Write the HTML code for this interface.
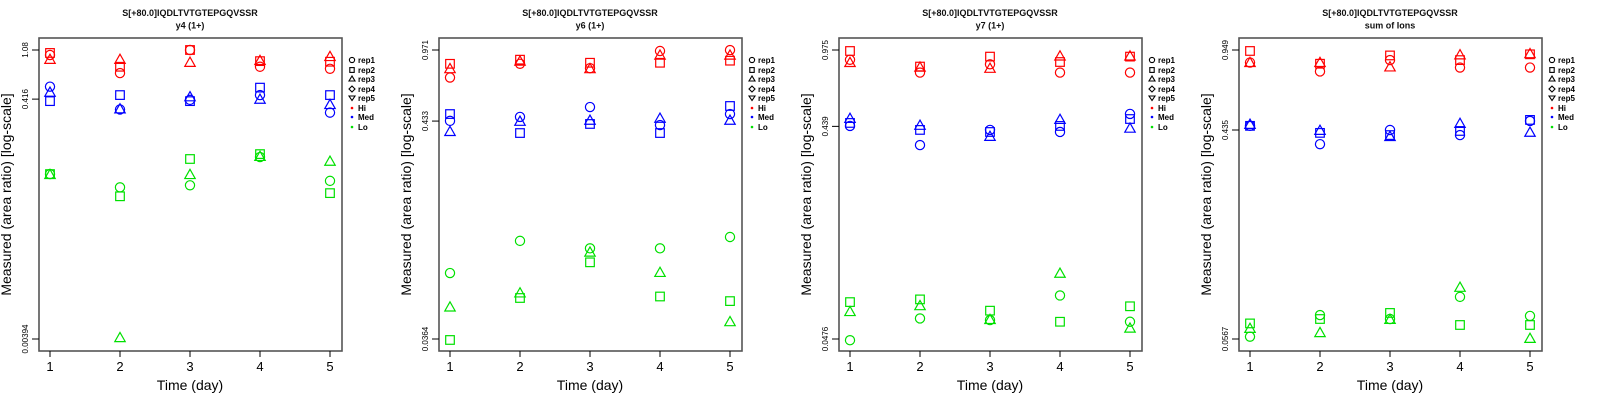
<!DOCTYPE html>
<html><head><meta charset="utf-8">
<style>
html,body{margin:0;padding:0;background:#fff;}
svg{display:block;font-family:"Liberation Sans",sans-serif;}
</style></head>
<body>
<svg id="chart" width="1600" height="400" viewBox="0 0 1600 400" xmlns="http://www.w3.org/2000/svg"></svg>
<script>
// ---- data ----
const days = [1, 2, 3, 4, 5];
const panelTitles = ["y4 (1+)", "y6 (1+)", "y7 (1+)", "sum of Ions"];
const peptide = "S[+80.0]IQDLTVTGTEPGQVSSR";
const tickTop = [1.08, 0.971, 0.975, 0.949];
const tickBottom = [0.00394, 0.0364, 0.0476, 0.0567];
const tickTopLabels = ["1.08", "0.971", "0.975", "0.949"];
const tickMidLabels = ["0.416", "0.433", "0.439", "0.435"];
const tickMid = [0.416, 0.433, 0.439, 0.435];
const tickBottomLabels = ["0.00394", "0.0364", "0.0476", "0.0567"];
const groups = ["Hi", "Med", "Lo"];
const reps = ["rep1", "rep2", "rep3"];
// values[panel][group][day] = [rep1, rep2, rep3]
const p1Hi  = [[.98,1.02,.89],[.69,.78,.89],[1.08,1.08,.84],[.78,.87,.87],[.75,.86,.94]];
const p1Med = [[.53,.40,.47],[.34,.45,.34],[.41,.40,.43],[.45,.52,.41],[.32,.45,.37]];
const p1Lo  = [[.097,.097,.095],[.075,.063,.0040],[.078,.130,.095],[.135,.143,.135],[.085,.067,.123]];
const p2Hi  = [[.71,.83,.78],[.83,.87,.85],[.79,.84,.78],[.96,.84,.91],[.97,.86,.91]];
const p2Med = [[.434,.469,.382],[.454,.378,.429],[.508,.419,.434],[.414,.378,.444],[.469,.514,.434]];
const p2Lo  = [[.077,.036,.052],[.111,.058,.061],[.102,.087,.097],[.102,.059,.077],[.116,.056,.044]];
const p3Hi  = [[.88,.965,.85],[.77,.82,.81],[.84,.91,.80],[.77,.86,.91],[.77,.91,.91]];
const p3Med = [[.441,.455,.474],[.361,.423,.441],[.423,.414,.393],[.414,.441,.469],[.50,.474,.428]];
const p3Lo  = [[.047,.070,.063],[.059,.072,.067],[.058,.064,.058],[.075,.057,.094],[.057,.067,.053]];
const p4Hi  = [[.84,.94,.835],[.77,.83,.835],[.86,.90,.80],[.80,.86,.90],[.80,.91,.91]];
const p4Med = [[.453,.453,.457],[.379,.423,.431],[.435,.414,.406],[.414,.431,.461],[.475,.480,.423]];
const p4Lo  = [[.058,.066,.0625],[.0716,.0689,.060],[.0689,.0731,.0682],[.0855,.065,.0933],[.071,.065,.0567]];
const panelData = [[p1Hi,p1Med,p1Lo],[p2Hi,p2Med,p2Lo],[p3Hi,p3Med,p3Lo],[p4Hi,p4Med,p4Lo]];
const legendLabels = ["rep1","rep2","rep3","rep4","rep5","Hi","Med","Lo"];

const colors = ["#ff0000", "#0000ff", "#00e000"];
const NS = "http://www.w3.org/2000/svg";
const svg = document.getElementById("chart");
function mk(tag, attrs, parent) {
  const e = document.createElementNS(NS, tag);
  for (const k in attrs) e.setAttribute(k, attrs[k]);
  (parent || svg).appendChild(e);
  return e;
}
function marker(g, shape, x, y, color) {
  let e;
  if (shape === 0) e = mk("circle", {cx: x, cy: y, r: 4.6, fill: "none", stroke: color, "stroke-width": 1.2}, g);
  else if (shape === 1) e = mk("rect", {x: x - 4.3, y: y - 4.3, width: 8.6, height: 8.6, fill: "none", stroke: color, "stroke-width": 1.2}, g);
  else e = mk("polygon", {points: `${x},${y-5.8} ${x-5.2},${y+3.4} ${x+5.2},${y+3.4}`, fill: "none", stroke: color, "stroke-width": 1.2}, g);
  return e;
}

const boxL = 39, boxR = 342, boxT = 38, boxB = 351, yTop = 50, yBot = 339;
for (let p = 0; p < 4; p++) {
  const ox = p * 400;
  const g = mk("g", {});
  
  
  const lt = Math.log10(tickTop[p]), lb = Math.log10(tickBottom[p]);
  const yScale = v => yTop + (lt - Math.log10(v)) / (lt - lb) * (yBot - yTop);
  const xScale = d => ox + 50 + (d - 1) * 70;

  const t1 = mk("text", {x: ox + 190, y: 16, "text-anchor": "middle", "font-size": 9, "font-weight": "bold", fill: "#111"}, g);
  t1.textContent = peptide;
  
  
  const t2 = mk("text", {x: ox + 190, y: 28.5, "text-anchor": "middle", "font-size": 9, "font-weight": "bold", fill: "#111"}, g);
  t2.textContent = panelTitles[p];
  
  

  const box = mk("rect", {x: ox + boxL, y: boxT, width: boxR - boxL, height: boxB - boxT, fill: "none", stroke: "#555", "stroke-width": 1.6}, g);
  
  

  // y ticks
  const yt = [tickTop[p], tickMid[p], tickBottom[p]];
  const ytl = [tickTopLabels[p], tickMidLabels[p], tickBottomLabels[p]];
  for (let i = 0; i < 3; i++) {
    const y = yScale(yt[i]);
    mk("line", {x1: ox + 32, x2: ox + boxL, y1: y, y2: y, stroke: "#000", "stroke-width": 1}, g);
    const tl = mk("text", {x: 0, y: 0, "text-anchor": "middle", "font-size": 8, fill: "#000", transform: `translate(${ox + 28},${y}) rotate(-90)`}, g);
    tl.textContent = ytl[i];
    
    
  }
  const yTitle = mk("text", {x: 0, y: 0, "text-anchor": "middle", "font-size": 14, fill: "#000", transform: `translate(${ox + 11},${(boxT + boxB) / 2}) rotate(-90)`}, g);
  yTitle.textContent = "Measured (area ratio) [log-scale]";
  
  

  // x ticks
  for (const d of days) {
    const x = xScale(d);
    mk("line", {x1: x, x2: x, y1: boxB, y2: boxB + 6, stroke: "#000", "stroke-width": 1}, g);
    const tl = mk("text", {x: x, y: 371, "text-anchor": "middle", "font-size": 13, fill: "#000"}, g);
    tl.textContent = d;
    
    
  }
  const xTitle = mk("text", {x: ox + 190, y: 390, "text-anchor": "middle", "font-size": 14, fill: "#000"}, g);
  xTitle.textContent = "Time (day)";
  
  

  // points
  for (let gi = 0; gi < 3; gi++) {
    const series = panelData[p][gi];
    for (let di = 0; di < days.length; di++) {
      for (let r = 0; r < 3; r++) {
        const m = marker(g, r, xScale(days[di]), yScale(series[di][r]), colors[gi]);
        
        
      }
    }
  }

  // legend
  const lg = mk("g", {}, g);
  
  
  const ly = [60, 70, 79, 89, 98, 108, 117, 127];
  for (let i = 0; i < legendLabels.length; i++) {
    const x = ox + 352, y = ly[i];
    let s;
    if (i === 0) s = mk("circle", {cx: x, cy: y, r: 2.6, fill: "none", stroke: "#000", "stroke-width": 1.1}, lg);
    else if (i === 1) s = mk("rect", {x: x - 2.2, y: y - 2.4, width: 4.4, height: 4.8, fill: "none", stroke: "#000", "stroke-width": 1.1}, lg);
    else if (i === 2) s = mk("polygon", {points: `${x},${y-3} ${x-3},${y+2} ${x+3},${y+2}`, fill: "none", stroke: "#000", "stroke-width": 1.1}, lg);
    else if (i === 3) s = mk("polygon", {points: `${x},${y-3} ${x-3},${y} ${x},${y+3} ${x+3},${y}`, fill: "none", stroke: "#000", "stroke-width": 1.1}, lg);
    else if (i === 4) s = mk("polygon", {points: `${x},${y+2.5} ${x-3},${y-2} ${x+3},${y-2}`, fill: "none", stroke: "#000", "stroke-width": 1.1}, lg);
    else s = mk("circle", {cx: x, cy: y, r: 1.3, fill: colors[i - 5]}, lg);
    
    
    const t = mk("text", {x: ox + 358, y: y + 3, "font-size": 8, "font-weight": "bold", fill: "#000"}, lg);
    t.textContent = legendLabels[i];
    
    
  }
}
</script>
</body></html>
